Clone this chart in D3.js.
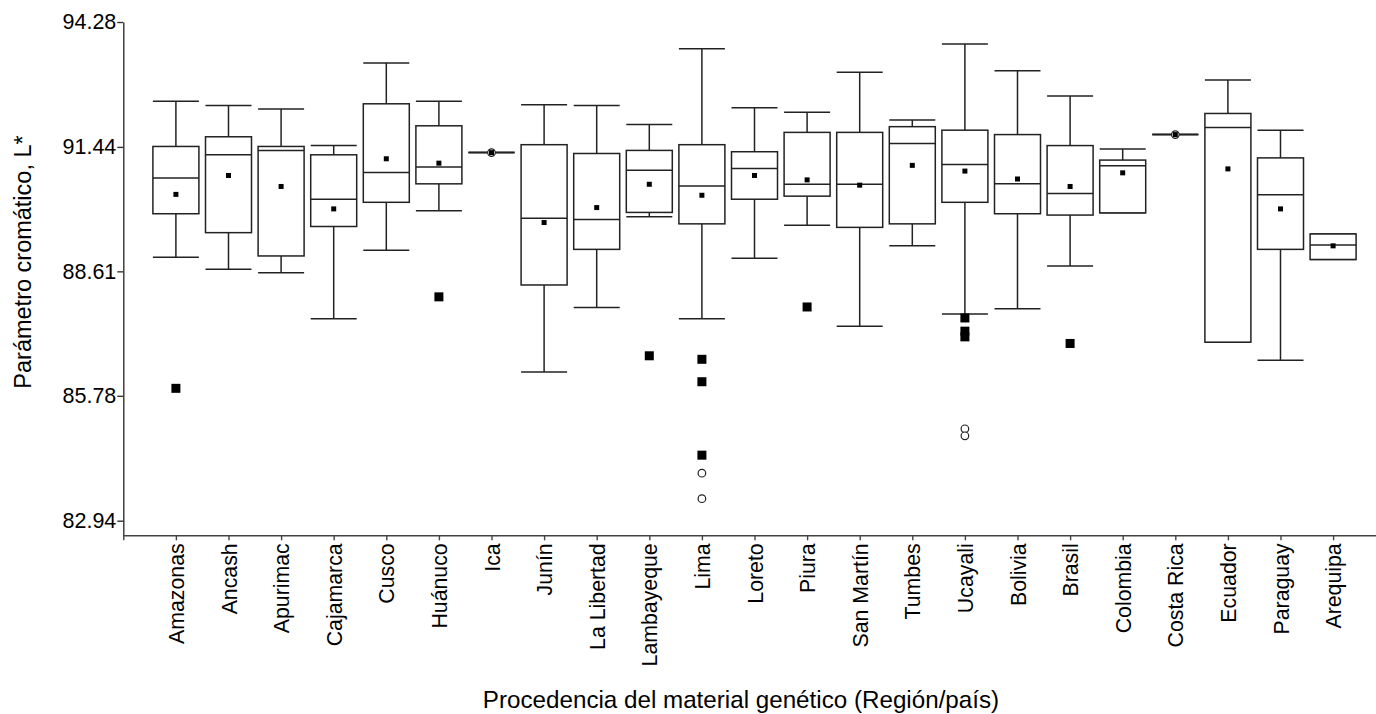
<!DOCTYPE html>
<html>
<head>
<meta charset="utf-8">
<script src="https://cdn.jsdelivr.net/npm/d3@7"></script>
<style>
  body { margin: 0; background: #fff; }
  text { font-family: "Liberation Sans", Arial, sans-serif; fill: #000; }
</style>
</head>
<body>
<svg id="chart" width="1376" height="714"></svg>
<script>
// Data (L* per origin)
const categories = [ 'Amazonas', 'Ancash', 'Apurimac', 'Cajamarca', 'Cusco', 'Huánuco', 'Ica', 'Junín',
  'La Libertad', 'Lambayeque', 'Lima', 'Loreto', 'Piura', 'San Martín', 'Tumbes', 'Ucayali', 'Bolivia',
  'Brasil', 'Colombia', 'Costa Rica', 'Ecuador', 'Paraguay', 'Arequipa' ];
const whiskerHigh = [ 92.48, 92.38, 92.30, 91.47, 93.35, 92.48, 91.31, 92.40, 92.38, 91.95, 93.67, 92.33,
  92.23, 93.14, 92.05, 93.78, 93.17, 92.60, 91.39, 91.72, 92.96, 91.82, 89.46 ];
const q3 = [ 91.45, 91.67, 91.45, 91.26, 92.42, 91.92, 91.31, 91.49, 91.29, 91.36, 91.49, 91.33,
  91.77, 91.77, 91.90, 91.82, 91.72, 91.47, 91.14, 91.72, 92.20, 91.19, 89.46 ];
const medians = [ 90.73, 91.26, 91.36, 90.25, 90.86, 90.98, 91.31, 89.82, 89.79, 90.91, 90.55, 90.95,
  90.59, 90.59, 91.52, 91.04, 90.60, 90.38, 91.01, 91.72, 91.88, 90.35, 89.21 ];
const q1 = [ 89.92, 89.49, 88.96, 89.63, 90.18, 90.60, 91.31, 88.30, 89.11, 89.95, 89.69, 90.25,
  90.32, 89.61, 89.69, 90.18, 89.92, 89.89, 89.94, 91.72, 87.00, 89.11, 88.88 ];
const whiskerLow = [ 88.93, 88.66, 88.58, 87.53, 89.09, 89.99, 91.31, 86.32, 87.79, 89.85, 87.53, 88.91,
  89.66, 87.36, 89.19, 87.64, 87.76, 88.73, 89.94, 91.72, 87.00, 86.59, 88.88 ];
const means = [ 90.36, 90.79, 90.54, 90.03, 91.17, 91.07, 91.31, 89.72, 90.06, 90.59, 90.34, 90.79,
  90.69, 90.57, 91.02, 90.89, 90.71, 90.54, 90.85, 91.72, 90.94, 90.03, 89.19 ];
// outliers: [category, value]
const filledOutliers = [ [ 'Amazonas', 85.95 ], [ 'Huánuco', 88.03 ], [ 'Lambayeque', 86.69 ],
  [ 'Lima', 86.61 ], [ 'Lima', 86.10 ], [ 'Lima', 84.43 ], [ 'Piura', 87.80 ],
  [ 'Ucayali', 87.55 ], [ 'Ucayali', 87.25 ], [ 'Ucayali', 87.12 ], [ 'Brasil', 86.97 ] ];
const openOutliers = [ [ 'Ica', 91.31 ], [ 'Lima', 84.02 ], [ 'Lima', 83.44 ],
  [ 'Ucayali', 85.03 ], [ 'Ucayali', 84.87 ], [ 'Costa Rica', 91.72 ] ];
const yTicks = [ 82.94, 85.78, 88.61, 91.44, 94.28 ];

// Layout
const axisX   = 123.3;
const axisY   = 535.3;
const topY    = 22;
const tickY0  = 520.7;
const boxW    = 46;
const stroke  = '#222';

const svg = d3.select( '#chart' );

// Scales
const y0 = yTicks[0] - ( axisY - tickY0 ) / ( ( tickY0 - topY ) / ( yTicks[4] - yTicks[0] ) );
const y = d3.scaleLinear().domain( [ y0, yTicks[4] ] ).range( [ axisY, topY ] );
const x = d3.scalePoint().domain( categories ).range( [ axisX, axisX + 24 * 52.6 ] ).padding( 1 );

// Axes
svg.append( 'g' )
  .attr( 'transform', `translate(${axisX},0)` )
  .call( d3.axisLeft( y ).tickValues( yTicks ).tickFormat( d3.format( '.2f' ) ).tickSize( 6 ).tickSizeOuter( 0 ) )
  .call( g => g.selectAll( 'path, line' ).attr( 'stroke', '#333' ).attr( 'stroke-width', 1.4 ) )
  .call( g => g.selectAll( 'text' ).attr( 'font-size', 21.5 ).attr( 'x', -7 ).attr( 'fill', '#000' ) );

svg.append( 'g' )
  .attr( 'transform', `translate(0,${axisY})` )
  .call( d3.axisBottom( x ).tickSize( 5 ).tickSizeOuter( 5 ) )
  .call( g => g.selectAll( 'path, line' ).attr( 'stroke', '#444' ).attr( 'stroke-width', 1.4 ) )
  .call( g => g.selectAll( 'text' )
    .attr( 'font-size', 21.3 )
    .attr( 'fill', '#000' )
    .attr( 'transform', 'rotate(-90)' )
    .attr( 'text-anchor', 'end' )
    .attr( 'x', -8 )
    .attr( 'y', 0 )
    .attr( 'dy', '0.36em' ) );

// Axis titles
svg.append( 'text' )
  .attr( 'transform', `translate(31,262) rotate(-90)` )
  .attr( 'text-anchor', 'middle' )
  .attr( 'font-size', 23.5 )
  .text( 'Parámetro cromático, L*' );

svg.append( 'text' )
  .attr( 'x', 741 ).attr( 'y', 708 )
  .attr( 'text-anchor', 'middle' )
  .attr( 'font-size', 24.2 )
  .text( 'Procedencia del material genético (Región/país)' );

// Boxes
const boxes = svg.append( 'g' ).attr( 'fill', 'none' ).attr( 'stroke', stroke ).attr( 'stroke-width', 1.5 );
categories.forEach( ( c, i ) => {
  const cx = x( c );
  const g = boxes.append( 'g' );
  // whiskers
  g.append( 'line' ).attr( 'x1', cx ).attr( 'x2', cx ).attr( 'y1', y( whiskerHigh[i] ) ).attr( 'y2', y( q3[i] ) );
  g.append( 'line' ).attr( 'x1', cx ).attr( 'x2', cx ).attr( 'y1', y( q1[i] ) ).attr( 'y2', y( whiskerLow[i] ) );
  g.append( 'line' ).attr( 'x1', cx - boxW / 2 ).attr( 'x2', cx + boxW / 2 )
    .attr( 'y1', y( whiskerHigh[i] ) ).attr( 'y2', y( whiskerHigh[i] ) );
  g.append( 'line' ).attr( 'x1', cx - boxW / 2 ).attr( 'x2', cx + boxW / 2 )
    .attr( 'y1', y( whiskerLow[i] ) ).attr( 'y2', y( whiskerLow[i] ) );
  // box
  if ( q3[i] > q1[i] ) {
    g.append( 'rect' )
      .attr( 'x', cx - boxW / 2 ).attr( 'width', boxW )
      .attr( 'y', y( q3[i] ) ).attr( 'height', y( q1[i] ) - y( q3[i] ) )
      .attr( 'fill', '#fff' );
  }
  g.append( 'line' ).attr( 'x1', cx - boxW / 2 ).attr( 'x2', cx + boxW / 2 )
    .attr( 'y1', y( medians[i] ) ).attr( 'y2', y( medians[i] ) );
} );

// Outliers
svg.append( 'g' ).selectAll( 'circle' ).data( openOutliers ).join( 'circle' )
  .attr( 'cx', d => x( d[0] ) ).attr( 'cy', d => y( d[1] ) ).attr( 'r', 3.8 )
  .attr( 'fill', '#fff' ).attr( 'stroke', '#222' ).attr( 'stroke-width', 1.2 );

svg.append( 'g' ).selectAll( 'rect' ).data( filledOutliers ).join( 'rect' )
  .attr( 'x', d => x( d[0] ) - 4.5 ).attr( 'y', d => y( d[1] ) - 4.5 )
  .attr( 'width', 9 ).attr( 'height', 9 ).attr( 'fill', '#000' );

// Means
svg.append( 'g' ).selectAll( 'rect' ).data( means ).join( 'rect' )
  .attr( 'x', ( d, i ) => x( categories[i] ) - 2.5 ).attr( 'y', d => y( d ) - 2.5 )
  .attr( 'width', 5 ).attr( 'height', 5 ).attr( 'fill', '#000' );
</script>
</body>
</html>
